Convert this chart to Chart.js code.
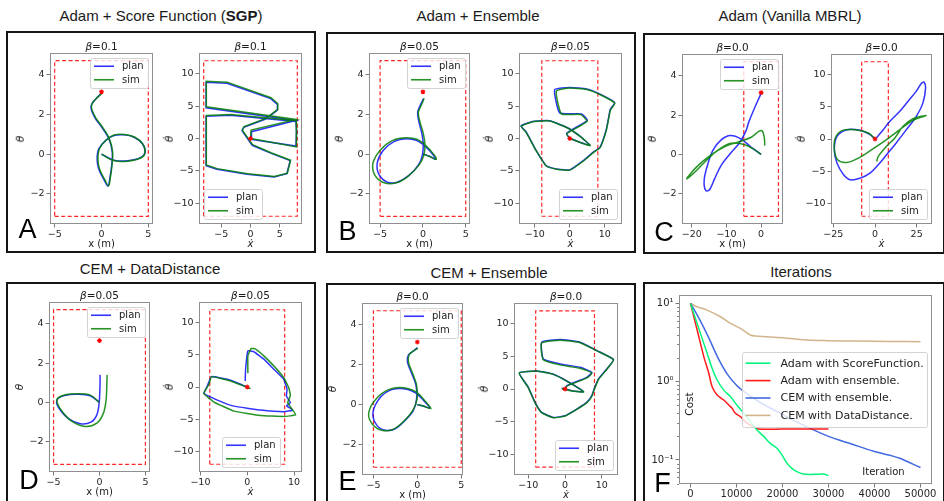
<!DOCTYPE html>
<html><head><meta charset="utf-8">
<script src="https://cdn.jsdelivr.net/npm/chart.js@4.4.1/dist/chart.umd.min.js"></script>
<style>
body{margin:0;background:#fff;width:944px;height:501px;overflow:hidden;position:relative;font-family:"DejaVu Sans",sans-serif;}
.frame{position:absolute;border:2px solid #151515;box-sizing:border-box;}
.t{position:absolute;transform:translate(-50%,-50%);white-space:nowrap;color:#1a1a1a;line-height:1;}
.title{font-family:"Liberation Sans",Arial,sans-serif;font-size:15px;}
.beta{font-size:10.5px;}
.xl{font-size:10px;}
.yl{font-size:10.5px;transform:translate(-50%,-50%) rotate(-90deg);}
.letter{font-family:"Liberation Sans",Arial,sans-serif;font-size:27px;color:#000;}
canvas{position:absolute;}
</style></head><body>
<script>
// ---------------- DATA ----------------
const PI = Math.PI;
const POS_BOX_X = [-5, 5], POS_BOX_Y = [-PI, 1.5 * PI];
const VEL_BOX_X = [-8, 8], VEL_BOX_Y = [-12, 12];
const GOAL_POS = [0, PI], GOAL_VEL = [0, 0];

const TICKS_POS_X = [-5, 0, 5];
const TICKS_POS_Y = [-2, 0, 2, 4];
const TICKS_VEL_Y = [-10, -5, 0, 5, 10];
const TICKS_VEL_X_A = [-5, 0, 5];
const TICKS_VEL_X_10 = [-10, 0, 10];
const TICKS_POS_X_C = [-20, -10, 0];
const TICKS_VEL_X_C = [-25, 0, 25];

// Panel A (Adam + Score Function)
const A_POS_PLAN = [[0,0],[1.33,-0.31],[2.77,-0.34],[4.21,-0.17],[4.64,0.09],[4.39,0.51],[3.49,0.85],[2.41,0.97],[1.33,0.94],[0.43,0.68],[-0.29,0.26],[-0.47,-0.26],[-0.29,-0.77],[0.25,-1.28],[0.68,-1.62],[0.9,-1.2],[1.08,-0.6],[1.15,0.09],[0.79,0.77],[-0.11,1.45],[-0.65,1.79],[-1.12,2.31],[-1.0,2.56],[-0.47,2.85],[0,3.08]];
const A_POS_SIM = [[0,0],[1.3,-0.33],[2.75,-0.36],[4.2,-0.2],[4.66,0.07],[4.42,0.5],[3.52,0.86],[2.43,0.99],[1.35,0.96],[0.47,0.7],[-0.22,0.27],[-0.38,-0.26],[-0.2,-0.77],[0.33,-1.27],[0.75,-1.6],[0.95,-1.18],[1.12,-0.58],[1.19,0.1],[0.83,0.78],[-0.06,1.47],[-0.6,1.81],[-1.07,2.33],[-0.95,2.58],[-0.43,2.86],[0.02,3.05]];
const A_VEL_PLAN = [[0.11,0.16],[0.17,1.05],[7.76,2.79],[-7.59,4.74],[-7.59,8.68],[-4.02,8.53],[3.45,6.16],[4.6,5.26],[4.6,4.37],[2.59,3.0],[-1.15,1.74],[-1.44,1.21],[0.29,-1.05],[3.45,-2.26],[6.78,-3.42],[6.21,-5.42],[4.02,-5.95],[-0.57,-5.53],[-5.75,-4.74],[-7.59,-4.21],[-7.59,3.42],[-3.45,3.58],[7.76,2.63],[7.87,1.16],[7.76,-1.16],[0.29,-0.16]];
const A_VEL_SIM = [[0,0],[0.1,1.3],[7.8,2.95],[-7.55,4.9],[-7.55,8.85],[-4.0,8.7],[3.5,6.3],[4.65,5.4],[4.65,4.5],[2.65,3.1],[-1.1,1.85],[-1.4,1.3],[0.35,-0.95],[3.5,-2.2],[6.85,-3.35],[6.3,-5.35],[4.1,-5.85],[-0.5,-5.45],[-5.7,-4.65],[-7.55,-4.1],[-7.55,3.55],[-3.4,3.7],[7.82,2.75],[7.9,1.2],[7.8,-1.3],[0.3,-0.05]];

// Panel B (Adam + Ensemble)
const B_POS_PLAN = [[0,0],[0.7,-0.09],[1.48,-0.26],[0.89,0.12],[-0.47,0.63],[-1.95,0.77],[-3.39,0.63],[-4.67,0.17],[-5.33,-0.43],[-5.14,-1.03],[-4.16,-1.42],[-3.0,-1.42],[-1.63,-1.08],[-0.54,-0.56],[-0.08,-0.09],[0.04,0.51],[-0.16,1.11],[-0.47,1.62],[-0.62,2.1],[-0.39,2.39],[0,2.74],[0,2.79]];
const B_POS_SIM = [[0,0],[0.78,-0.12],[1.56,-0.26],[1.0,0.12],[-0.39,0.68],[-1.95,0.82],[-3.58,0.68],[-4.94,0.22],[-5.84,-0.46],[-5.6,-1.08],[-4.55,-1.45],[-3.11,-1.45],[-1.71,-1.11],[-0.47,-0.56],[0.12,-0.05],[0.23,0.51],[0,1.11],[-0.35,1.62],[-0.54,2.1],[-0.27,2.39],[0.08,2.74],[0.12,2.82]];
const B_VEL_PLAN = [[0,0],[-0.96,0.79],[0.48,1.32],[5.0,2.79],[3.37,3.79],[-2.88,3.95],[-4.33,7.53],[0,7.89],[4.81,7.63],[8.65,6.84],[12.79,5.53],[11.54,4.47],[11.06,3.16],[10.38,1.32],[8.65,-1.32],[6.73,-2.1],[3.85,-3.42],[0,-4.84],[-3.37,-4.74],[-6.73,-4.21],[-9.62,-1.84],[-12.5,1.05],[-13.94,1.95],[-10.58,2.63],[-5.77,2.74],[-0.96,1.74],[2.88,0.37],[5.77,-1.05],[2.88,-0.58],[-0.48,0.16]];
const B_VEL_SIM = [[0,0],[-0.9,0.7],[0.5,1.2],[4.9,2.65],[3.1,3.7],[-2.4,3.8],[-3.85,7.3],[0,7.8],[4.85,7.55],[8.7,6.75],[12.85,5.45],[11.6,4.4],[11.1,3.1],[10.42,1.25],[8.7,-1.38],[6.78,-2.15],[3.9,-3.47],[0.05,-4.88],[-3.35,-4.78],[-6.7,-4.25],[-9.6,-1.88],[-12.5,1.0],[-13.9,1.9],[-10.55,2.6],[-5.75,2.7],[-0.9,1.7],[2.95,0.32],[5.85,-1.1],[2.95,-0.62],[-0.4,0.1]];

// Panel C (Adam, vanilla MBRL)
const C_POS_PLAN = [[0,0],[-3.02,0.39],[-5.85,0.79],[-8.87,0.96],[-11.51,0.74],[-13.87,0.22],[-15.47,-0.55],[-16.42,-1.32],[-15.94,-1.84],[-14.81,-1.78],[-13.4,-1.23],[-11.51,-0.55],[-8.87,0.05],[-6.32,0.57],[-4.43,1.17],[-3.49,1.68],[-2.08,2.28],[-0.94,2.74],[0,3.1]];
const C_POS_SIM = [[0,0],[-2.08,0.27],[-4.91,0.51],[-8.68,0.57],[-12.45,0.22],[-16.23,-0.38],[-19.06,-0.89],[-21.42,-1.23],[-18.58,-0.63],[-14.81,-0.07],[-10.57,0.39],[-6.32,0.65],[-3.02,0.86],[-0.66,1.17],[0.28,1.2],[0.94,0.82],[1.04,0.45]];
const C_VEL_PLAN = [[0,0],[-2.98,0.68],[-8.93,1.35],[-16.87,1.45],[-22.82,0.42],[-24.4,-1.66],[-22.82,-3.74],[-18.85,-5.56],[-14.88,-6.34],[-8.93,-6.08],[-2.98,-5.3],[1.98,-4.0],[6.94,-2.44],[11.9,-0.88],[18.85,1.45],[24.8,3.53],[28.77,5.61],[30.36,7.95],[29.37,8.83],[27.78,8.62],[24.8,7.43],[19.84,5.87],[14.88,4.31],[8.93,2.75],[4.96,1.45],[1.98,0.52],[0.6,0.1]];
const C_VEL_SIM = [[0,0],[-3.97,0.94],[-11.9,1.45],[-19.84,1.3],[-23.81,0.16],[-24.4,-1.66],[-22.42,-3.22],[-16.87,-3.64],[-9.92,-2.96],[-1.98,-1.66],[6.94,-0.1],[14.88,1.45],[22.82,2.91],[30.75,3.64],[22.82,3.17],[16.87,1.97],[11.9,0.16],[6.94,-1.14],[1.98,-2.7],[0.99,-3.48]];

// Panel D (CEM + DataDistance)
const D_POS_PLAN = [[0,0],[-1.01,0.34],[-2.45,0.42],[-3.71,0.37],[-4.53,0.2],[-4.68,-0.03],[-4.24,-0.41],[-3.35,-0.83],[-2.09,-1.08],[-0.94,-1.0],[-0.29,-0.63],[-0.04,-0.03],[0.04,0.64],[0.07,1.4]];
const D_POS_SIM = [[0,0],[-1.01,0.37],[-2.45,0.44],[-3.71,0.39],[-4.53,0.22],[-4.6,-0.03],[-4.06,-0.46],[-2.99,-0.96],[-1.55,-1.22],[-0.29,-1.05],[0.43,-0.54],[0.72,0.14],[0.79,0.81],[0.83,1.4]];
const D_VEL_PLAN = [[-0.43,0.94],[-0.35,2.76],[0.14,5.63],[1.42,5.47],[3.55,4.32],[5.67,2.76],[7.8,1.2],[8.51,-0.36],[8.37,-1.41],[9.22,-2.45],[8.4,-2.9],[9.72,-3.59],[7.8,-3.85],[2.84,-3.59],[-2.84,-2.97],[-6.38,-2.03],[-9.22,-0.99],[-8.51,0.16],[-7.66,1.61],[-4.26,1.2],[-1.42,0.42],[0.35,-0.16]];
const D_VEL_SIM = [[0.14,2.14],[0.14,4.84],[0.85,5.99],[1.77,5.89],[3.55,4.84],[5.67,3.28],[7.8,1.46],[8.87,-0.1],[9.22,-1.3],[8.65,-2.45],[10.35,-4.32],[7.8,-4.58],[2.84,-4.43],[-2.84,-3.75],[-7.09,-2.34],[-9.29,-0.99],[-8.16,0.42],[-7.66,1.61],[-3.55,0.94],[-0.71,0.16],[0.71,-0.26]];

// Panel E (CEM + Ensemble)
const E_POS_PLAN = [[0,0],[0.68,-0.07],[1.43,-0.17],[0.87,0.13],[-0.26,0.61],[-1.96,0.81],[-3.47,0.64],[-4.6,0.13],[-5.06,-0.5],[-4.6,-1.04],[-3.66,-1.29],[-2.53,-1.21],[-1.4,-0.79],[-0.45,-0.29],[-0.08,0.3],[-0.15,0.97],[-0.64,1.56],[-1.13,2.15],[-1.02,2.49],[-0.45,2.69],[0,2.86]];
const E_POS_SIM = [[0,0],[0.75,-0.08],[1.55,-0.2],[0.98,0.13],[-0.15,0.64],[-1.96,0.86],[-3.66,0.67],[-4.98,0.13],[-5.55,-0.5],[-5.06,-1.01],[-4.04,-1.29],[-2.72,-1.24],[-1.51,-0.82],[-0.53,-0.3],[-0.04,0.27],[-0.08,0.97],[-0.53,1.56],[-1.02,2.15],[-0.94,2.49],[-0.38,2.71],[0.08,2.82]];
const E_VEL_PLAN = [[0,0],[0.45,0.51],[5.91,1.79],[7.27,2.56],[4.09,3.33],[-1.36,3.85],[-5.91,4.62],[-6.36,7.18],[-1.36,7.59],[4.09,7.18],[8.64,5.9],[13.18,4.51],[11.36,3.08],[9.09,1.54],[7.91,0],[7.27,-1.03],[5.91,-2.05],[3.18,-3.08],[0,-4.1],[-3.18,-4.36],[-6.36,-3.59],[-8.18,-2.05],[-10.0,0.26],[-12.45,2.46],[-7.73,2.77],[-3.18,2.26],[0.45,1.23],[5.0,-0.41],[1.82,-0.26],[-0.91,0.1]];
const E_VEL_SIM = [[0,0],[0.5,0.45],[5.95,1.7],[7.3,2.45],[4.0,3.2],[-1.4,3.7],[-5.95,4.5],[-6.4,7.05],[-1.4,7.5],[4.1,7.1],[8.7,5.85],[13.2,4.5],[11.4,3.05],[9.12,1.5],[7.95,-0.05],[7.3,-1.08],[5.95,-2.1],[3.2,-3.12],[0,-4.14],[-3.2,-4.4],[-6.4,-3.62],[-8.2,-2.08],[-10.05,0.24],[-12.5,2.44],[-7.75,2.75],[-3.2,2.24],[0.45,1.2],[5.05,-0.44],[1.85,-0.3],[-0.9,0.08]];

// Panel F (cost vs iterations)
const F_X_TICKS = [0, 10000, 20000, 30000, 40000, 50000];
const F_Y_TICKS = [0.1, 1, 10];
const ITER_SF = [0,1000,2170,3615,4700,5785,7230,8680,10120,11570,13000,14460,15900,17350,18800,19880,20970,22050,23140,24580,27480,28920,30000];
const COST_SF = [10,6.6,4.14,2.3,1.48,1.05,0.78,0.645,0.5,0.394,0.309,0.241,0.2,0.163,0.141,0.116,0.091,0.078,0.071,0.066,0.0655,0.066,0.063];
const ITER_AE = [0,1446,2890,3977,4700,5785,7230,8315,9040,9760,10850,12290,13740,14820,20000,25000,30000];
const COST_AE = [10,4.57,2.09,1.28,0.86,0.676,0.583,0.503,0.457,0.394,0.357,0.295,0.267,0.249,0.248,0.249,0.249];
const ITER_CE = [0,2000,4000,6000,8000,10000,12000,15000,20000,25000,30000,35000,40000,44000,45500,50000];
const COST_CE = [10,6.2,3.6,2.0,1.25,0.9,0.72,0.55,0.38,0.27,0.2,0.16,0.128,0.112,0.105,0.08];
const ITER_DD = [0,1446,3615,6500,8680,10850,13000,14100,16630,21700,25300,29650,36150,43400,50000];
const COST_DD = [10,9.06,8.2,6.75,5.56,4.8,3.95,3.83,3.75,3.57,3.4,3.34,3.3,3.27,3.24];
const F_LABELS = ['Adam with ScoreFunction.', 'Adam with ensemble.', 'CEM with ensemble.', 'CEM with DataDistance.'];

// ---------------- PLUGINS ----------------
const spines = {
  id: 'spines',
  afterDraw(chart) {
    const { ctx, chartArea: a } = chart;
    ctx.save();
    ctx.strokeStyle = '#8f8f8f'; ctx.lineWidth = 1;
    ctx.strokeRect(Math.round(a.left) + 0.5, Math.round(a.top) + 0.5, Math.round(a.right - a.left) - 1, Math.round(a.bottom - a.top) - 1);
    ctx.restore();
  }
};
const minorTicks = {
  id: 'minorTicks',
  afterDraw(chart, args, o) {
    if (!o || !o.on) return;
    const s = chart.scales.y, ctx = chart.ctx;
    ctx.save(); ctx.strokeStyle = '#666'; ctx.lineWidth = 0.8;
    for (let k = -2; k <= 1; k++) for (let m = 2; m <= 9; m++) {
      const v = m * Math.pow(10, k);
      if (v < s.min || v > s.max) continue;
      const py = Math.round(s.getPixelForValue(v)) + 0.5;
      ctx.beginPath(); ctx.moveTo(s.right - 2, py); ctx.lineTo(s.right, py); ctx.stroke();
    }
    ctx.restore();
  }
};
const innerLegend = {
  id: 'innerLegend',
  afterDraw(chart, args, o) {
    if (!o || !o.loc) return;
    const ctx = chart.ctx, a = chart.chartArea;
    const items = chart.data.datasets.filter(d => d.inLegend);
    ctx.save();
    ctx.font = o.size + 'px "DejaVu Sans"';
    const tw = Math.max(...items.map(d => ctx.measureText(d.label).width));
    const w = o.padX * 2 + o.line + o.gap + tw, h = o.padY * 2 + items.length * o.row;
    const m = 5;
    let x, y;
    if (o.loc === 'ur') { x = a.right - m - w; y = a.top + m; }
    else if (o.loc === 'll') { x = a.left + m; y = a.bottom - m - h; }
    else if (o.loc === 'lr') { x = a.right - m - w; y = a.bottom - m - h; }
    else if (o.loc === 'lc') { x = (a.left + a.right - w) / 2; y = a.bottom - m - h; }
    else { x = a.right - m - w; y = (a.top + a.bottom - h) / 2; }
    x = Math.round(x); y = Math.round(y);
    ctx.fillStyle = 'rgba(255,255,255,0.8)'; ctx.strokeStyle = '#d3d3d3'; ctx.lineWidth = 1;
    ctx.beginPath();
    if (ctx.roundRect) ctx.roundRect(x + 0.5, y + 0.5, Math.round(w), Math.round(h), 2); else ctx.rect(x + 0.5, y + 0.5, w, h);
    ctx.fill(); ctx.stroke();
    items.forEach((d, i) => {
      const cy = y + o.padY + o.row * (i + 0.5);
      ctx.strokeStyle = d.legendColor || d.borderColor; ctx.lineWidth = 1.6;
      ctx.beginPath(); ctx.moveTo(x + o.padX, cy); ctx.lineTo(x + o.padX + o.line, cy); ctx.stroke();
      ctx.fillStyle = '#222'; ctx.textBaseline = 'middle'; ctx.textAlign = 'left';
      ctx.fillText(d.label, x + o.padX + o.line + o.gap, cy + 0.5);
    });
    ctx.restore();
  }
};
Chart.register(spines, minorTicks, innerLegend);

// ---------------- HELPERS ----------------
const ML = 45, MT = 10, MR = 24, MB = 28;
const fmt = v => (v < 0 ? '\u2212' + Math.abs(v) : String(v));
const pts = a => a.map(p => ({ x: p[0], y: p[1] }));
const xyPts = (xs, ys) => xs.map((x, i) => ({ x: x, y: ys[i] }));
const rectPts = (bx, by) => pts([[bx[0], by[0]], [bx[1], by[0]], [bx[1], by[1]], [bx[0], by[1]], [bx[0], by[0]]]);

function addText(html, cls, x, y) {
  const d = document.createElement('div');
  d.className = 't ' + cls; d.innerHTML = html;
  d.style.left = x + 'px'; d.style.top = y + 'px';
  document.body.appendChild(d);
}
function addFrame(l, t, w, h) {
  const d = document.createElement('div');
  d.className = 'frame';
  Object.assign(d.style, { left: l + 'px', top: t + 'px', width: w + 'px', height: h + 'px' });
  document.body.appendChild(d);
}
function makeCanvas(box) {
  const c = document.createElement('canvas');
  c.width = box[2] + ML + MR; c.height = box[3] + MT + MB;
  c.style.left = (box[0] - ML) + 'px'; c.style.top = (box[1] - MT) + 'px';
  document.body.appendChild(c);
  return c;
}
function axis(range, ticks, isX, size, cb, type) {
  return {
    type: type || 'linear', min: range[0], max: range[1],
    afterFit: s => { if (isX) s.height = MB; else s.width = ML; },
    afterBuildTicks: s => { s.ticks = ticks.map(v => ({ value: v })); },
    ticks: { autoSkip: false, maxRotation: 0, minRotation: 0, padding: isX ? 1 : 2, color: '#262626',
      font: { family: 'DejaVu Sans', size: size }, callback: cb || (v => fmt(v)) },
    grid: { drawOnChartArea: false, drawTicks: true, tickLength: 3.5, color: '#555', lineWidth: 0.8 },
    border: { display: false }
  };
}

function trajChart(p) {
  const c = makeCanvas(p.box);
  const ds = [
    { label: 'plan', data: pts(p.plan), showLine: true, borderColor: 'rgba(0,0,255,0.8)', borderWidth: 1.5, pointRadius: 0, tension: p.tension, inLegend: true, order: 2 },
    { label: 'sim', data: pts(p.sim), showLine: true, borderColor: 'rgba(0,128,0,0.85)', borderWidth: 1.5, pointRadius: 0, tension: p.tension, inLegend: true, order: 1 },
    { label: 'bound', data: rectPts(p.rx, p.ry), showLine: true, borderColor: 'rgba(255,0,0,0.85)', borderDash: [4, 2.5], borderWidth: 1.2, pointRadius: 0, tension: 0, order: 3 },
    { label: 'goal', data: pts([p.goal]), showLine: false, pointStyle: 'star', pointRadius: 2.4, borderColor: 'red', backgroundColor: 'red', borderWidth: 1.1, order: 0 }
  ];
  new Chart(c, {
    type: 'scatter',
    data: { datasets: ds },
    options: {
      responsive: false, animation: false, devicePixelRatio: 1, events: [],
      layout: { padding: { left: 0, top: MT, right: MR, bottom: 0 } },
      plugins: { legend: { display: false }, tooltip: { enabled: false },
        innerLegend: { loc: p.leg, size: 10, padX: 4, padY: 1.5, row: 13.5, line: 20, gap: 8 } },
      scales: { x: axis(p.xr, p.xt, true, 9.5), y: axis(p.yr, p.yt, false, 9.5) }
    }
  });
  const b = p.box;
  addText('<i>\u03b2</i>=' + p.beta, 'beta', b[0] + b[2] / 2, b[1] - 7.5);
  addText(p.xlab, 'xl', b[0] + b[2] / 2, b[1] + b[3] + 19.5);
  addText(p.ylab, 'yl', b[0] - 30, b[1] + b[3] / 2);
}

// ---------------- FRAMES & TITLES ----------------
addFrame(6, 31, 310, 222);
addFrame(326, 32, 310, 221);
addFrame(643, 33, 302, 221);
addFrame(6, 282, 310, 230);
addFrame(326, 283, 310, 230);
addFrame(643, 282, 302, 230);

addText('Adam + Score Function (<b>SGP</b>)', 'title', 161, 15);
addText('Adam + Ensemble', 'title', 478, 15);
addText('Adam (Vanilla MBRL)', 'title', 790, 15);
addText('CEM + DataDistance', 'title', 150, 268);
addText('CEM + Ensemble', 'title', 489, 272);
addText('Iterations', 'title', 801, 271);

const XPOS = 'x (m)', XVEL = '<i>x\u0307</i>', TPOS = '<i>\u03b8</i>', TVEL = '<i>\u03b8\u0307</i>';
const Y_POS_RANGE = [-3.53, 5.1], Y_VEL_RANGE = [-13.2, 13.2];

trajChart({ box: [50, 53, 103, 171], xr: [-5.5, 5.5], yr: Y_POS_RANGE, xt: TICKS_POS_X, yt: TICKS_POS_Y, plan: A_POS_PLAN, sim: A_POS_SIM, rx: POS_BOX_X, ry: POS_BOX_Y, goal: GOAL_POS, leg: 'ur', tension: 0.35, beta: '0.1', xlab: XPOS, ylab: TPOS });
trajChart({ box: [199, 53, 103, 171], xr: [-8.8, 8.8], yr: Y_VEL_RANGE, xt: TICKS_VEL_X_A, yt: TICKS_VEL_Y, plan: A_VEL_PLAN, sim: A_VEL_SIM, rx: VEL_BOX_X, ry: VEL_BOX_Y, goal: GOAL_VEL, leg: 'll', tension: 0, beta: '0.1', xlab: XVEL, ylab: TVEL });
trajChart({ box: [369, 53, 101, 171], xr: [-6.3, 5.5], yr: Y_POS_RANGE, xt: TICKS_POS_X, yt: TICKS_POS_Y, plan: B_POS_PLAN, sim: B_POS_SIM, rx: POS_BOX_X, ry: POS_BOX_Y, goal: GOAL_POS, leg: 'ur', tension: 0.35, beta: '0.05', xlab: XPOS, ylab: TPOS });
trajChart({ box: [519, 53, 103, 171], xr: [-14.5, 14.9], yr: Y_VEL_RANGE, xt: TICKS_VEL_X_10, yt: TICKS_VEL_Y, plan: B_VEL_PLAN, sim: B_VEL_SIM, rx: VEL_BOX_X, ry: VEL_BOX_Y, goal: GOAL_VEL, leg: 'lr', tension: 0.15, beta: '0.05', xlab: XVEL, ylab: TVEL });
trajChart({ box: [682, 54, 101, 170], xr: [-22.8, 6.3], yr: Y_POS_RANGE, xt: TICKS_POS_X_C, yt: TICKS_POS_Y, plan: C_POS_PLAN, sim: C_POS_SIM, rx: POS_BOX_X, ry: POS_BOX_Y, goal: GOAL_POS, leg: 'ur', tension: 0.35, beta: '0.0', xlab: XPOS, ylab: TPOS });
trajChart({ box: [831, 54, 101, 170], xr: [-26.4, 34.2], yr: Y_VEL_RANGE, xt: TICKS_VEL_X_C, yt: TICKS_VEL_Y, plan: C_VEL_PLAN, sim: C_VEL_SIM, rx: VEL_BOX_X, ry: VEL_BOX_Y, goal: GOAL_VEL, leg: 'lr', tension: 0.35, beta: '0.0', xlab: XVEL, ylab: TVEL });
trajChart({ box: [49, 302, 101, 170], xr: [-5.5, 5.5], yr: Y_POS_RANGE, xt: TICKS_POS_X, yt: TICKS_POS_Y, plan: D_POS_PLAN, sim: D_POS_SIM, rx: POS_BOX_X, ry: POS_BOX_Y, goal: GOAL_POS, leg: 'ur', tension: 0.35, beta: '0.05', xlab: XPOS, ylab: TPOS });
trajChart({ box: [199, 302, 103, 170], xr: [-10.3, 11.7], yr: Y_VEL_RANGE, xt: TICKS_VEL_X_10, yt: TICKS_VEL_Y, plan: D_VEL_PLAN, sim: D_VEL_SIM, rx: VEL_BOX_X, ry: VEL_BOX_Y, goal: GOAL_VEL, leg: 'lc', tension: 0.1, beta: '0.05', xlab: XVEL, ylab: TVEL });
trajChart({ box: [362, 303, 101, 172], xr: [-6.3, 5.2], yr: Y_POS_RANGE, xt: TICKS_POS_X, yt: TICKS_POS_Y, plan: E_POS_PLAN, sim: E_POS_SIM, rx: POS_BOX_X, ry: POS_BOX_Y, goal: GOAL_POS, leg: 'ur', tension: 0.35, beta: '0.0', xlab: XPOS, ylab: TPOS });
trajChart({ box: [514, 303, 104, 172], xr: [-13.9, 14.4], yr: Y_VEL_RANGE, xt: TICKS_VEL_X_10, yt: TICKS_VEL_Y, plan: E_VEL_PLAN, sim: E_VEL_SIM, rx: VEL_BOX_X, ry: VEL_BOX_Y, goal: GOAL_VEL, leg: 'lr', tension: 0.15, beta: '0.0', xlab: XVEL, ylab: TVEL });

// ---------------- PANEL F ----------------
(function () {
  const box = [679, 295, 253, 189];
  const c = makeCanvas(box);
  const sup = { '-1': '10\u207b\u00b9', '0': '10\u2070', '1': '10\u00b9' };
  const mk = (label, xs, ys, color) => ({ label: label, data: xyPts(xs, ys), showLine: true, borderColor: color, borderWidth: 1.5, pointRadius: 0, tension: 0.3, inLegend: true });
  new Chart(c, {
    type: 'scatter',
    data: { datasets: [
      mk(F_LABELS[0], ITER_SF, COST_SF, '#00f57a'),
      mk(F_LABELS[1], ITER_AE, COST_AE, '#ff1a1a'),
      mk(F_LABELS[2], ITER_CE, COST_CE, '#4169e1'),
      mk(F_LABELS[3], ITER_DD, COST_DD, '#d2b48c')
    ] },
    options: {
      responsive: false, animation: false, devicePixelRatio: 1, events: [],
      layout: { padding: { left: 0, top: MT, right: MR, bottom: 0 } },
      plugins: { legend: { display: false }, tooltip: { enabled: false }, minorTicks: { on: true },
        innerLegend: { loc: 'cr', size: 11, padX: 3.5, padY: 2.5, row: 17.4, line: 25, gap: 10 } },
      scales: {
        x: axis([-2500, 52500], F_X_TICKS, true, 10),
        y: axis([0.0493, 12.8], F_Y_TICKS, false, 10, v => sup[String(Math.round(Math.log10(v)))], 'logarithmic')
      }
    }
  });
  addText('Cost', 'yl', 689, 404);
  addText('Iteration', 'xl', 883.5, 472);
})();

// ---------------- PANEL LETTERS ----------------
addText('A', 'letter', 27.5, 229);
addText('B', 'letter', 347.5, 231);
addText('C', 'letter', 664, 232);
addText('D', 'letter', 29, 480);
addText('E', 'letter', 347.5, 480.5);
addText('F', 'letter', 662.5, 482.5);
</script>
</body></html>
